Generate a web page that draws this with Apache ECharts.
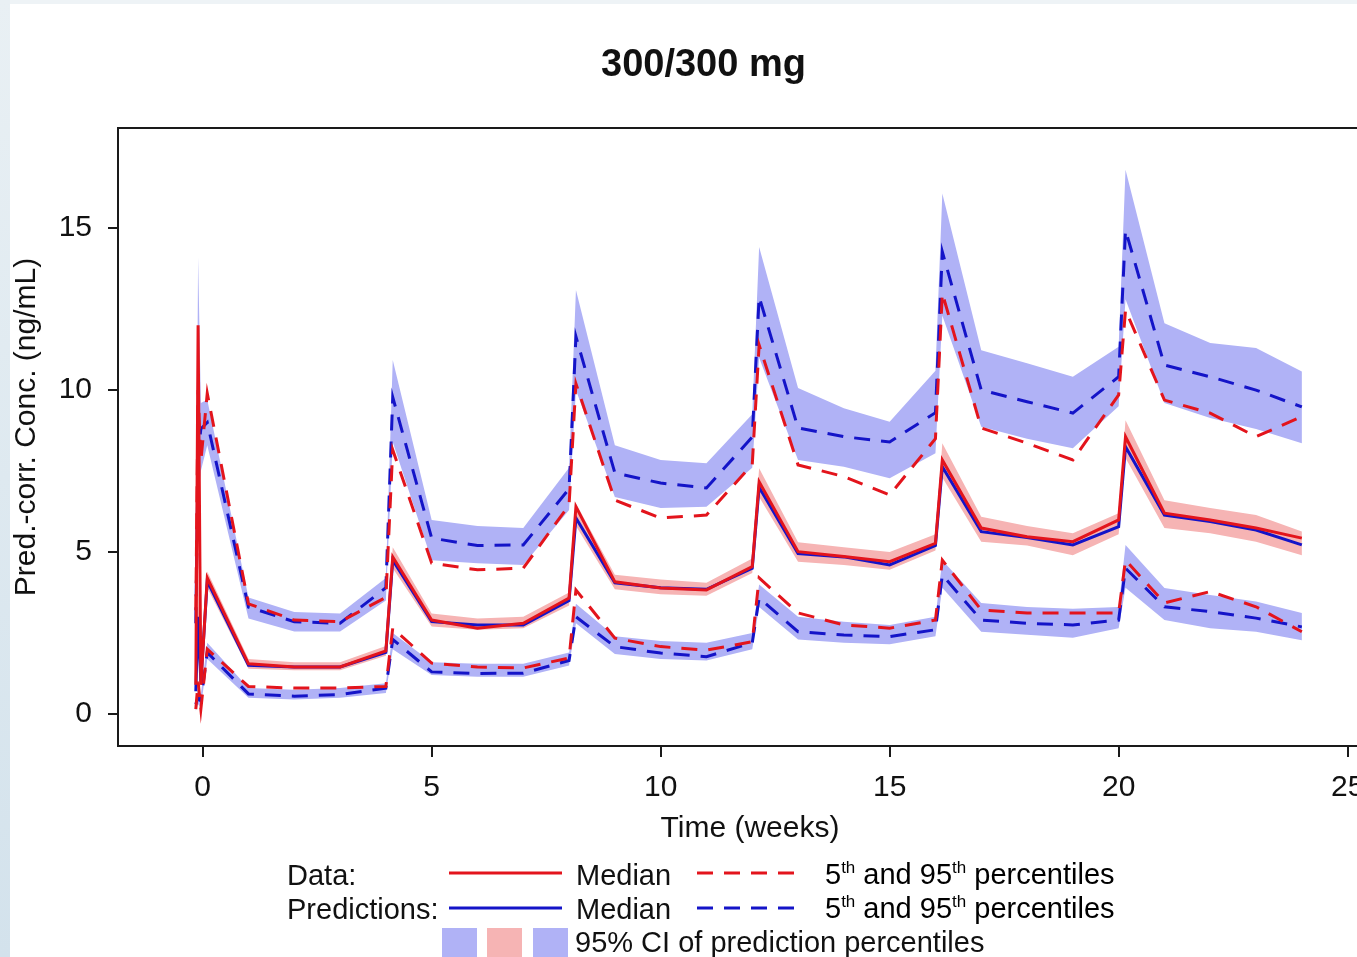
<!DOCTYPE html>
<html>
<head>
<meta charset="utf-8">
<script src="https://cdn.jsdelivr.net/npm/echarts@6/dist/echarts.min.js"></script>
<style>
html,body{margin:0;padding:0;background:#fff;}
#chart{width:1357px;height:957px;}
</style>
</head>
<body>
<div id="chart"></div>
<script>
// ---- data (weeks) ----
const weeks = [-0.15, -0.1, -0.04, 0.1, 1, 2, 3, 4, 4.15, 5, 6, 7, 8, 8.15, 9, 10, 11, 12, 12.15, 13, 14, 15, 16, 16.15, 17, 18, 19, 20, 20.15, 21, 22, 23, 24];

// Observed data (red)
const obsMedian = [0.9, 12.0, 0.9, 4.2, 1.55, 1.45, 1.45, 1.95, 4.85, 2.9, 2.65, 2.8, 3.58, 6.4, 4.08, 3.89, 3.83, 4.55, 7.17, 5.01, 4.86, 4.7, 5.27, 7.84, 5.74, 5.47, 5.32, 5.99, 8.56, 6.2, 5.99, 5.74, 5.43];
const obsP95 = [3.2, 10.0, 7.8, 9.9, 3.4, 2.9, 2.85, 3.6, 8.15, 4.66, 4.45, 4.5, 6.45, 10.2, 6.6, 6.05, 6.14, 7.7, 11.39, 7.69, 7.33, 6.76, 8.5, 12.99, 8.83, 8.36, 7.84, 9.85, 12.47, 9.69, 9.29, 8.56, 9.18];
const obsP05 = [0.15, 1.0, 0.15, 2.0, 0.85, 0.8, 0.8, 0.85, 2.65, 1.57, 1.45, 1.42, 1.73, 3.83, 2.34, 2.08, 1.97, 2.23, 4.2, 3.12, 2.75, 2.65, 2.9, 4.75, 3.21, 3.12, 3.12, 3.12, 4.75, 3.43, 3.78, 3.31, 2.54];

// Predictions (blue)
const predMedian = [0.7, 3.0, 1.0, 4.1, 1.5, 1.45, 1.45, 1.9, 4.75, 2.85, 2.75, 2.75, 3.5, 6.05, 4.05, 3.9, 3.85, 4.5, 7.0, 4.95, 4.85, 4.6, 5.2, 7.63, 5.63, 5.45, 5.22, 5.78, 8.25, 6.14, 5.94, 5.68, 5.22];
const predP95 = [2.8, 8.0, 8.8, 9.0, 3.3, 2.85, 2.8, 3.9, 9.78, 5.43, 5.2, 5.22, 6.95, 11.65, 7.44, 7.13, 6.98, 8.55, 12.88, 8.83, 8.56, 8.4, 9.3, 14.27, 10.0, 9.64, 9.29, 10.41, 14.94, 10.77, 10.41, 10.0, 9.48];
const predP05 = [0.3, 0.5, 0.4, 1.9, 0.62, 0.55, 0.6, 0.8, 2.3, 1.3, 1.25, 1.26, 1.65, 3.0, 2.08, 1.88, 1.77, 2.2, 3.58, 2.54, 2.44, 2.39, 2.6, 4.29, 2.9, 2.8, 2.75, 2.9, 4.5, 3.31, 3.16, 2.96, 2.69];

// 95% CI of prediction percentiles
const ci95Low = [2.5, 6.5, 7.5, 8.3, 2.95, 2.55, 2.55, 3.5, 8.4, 4.75, 4.65, 4.6, 6.3, 10.0, 6.7, 6.36, 6.4, 7.6, 11.0, 7.84, 7.63, 7.28, 8.05, 12.3, 8.87, 8.5, 8.2, 9.5, 12.8, 9.6, 9.14, 8.8, 8.36];
const ci95High = [3.5, 14.1, 9.6, 9.7, 3.6, 3.15, 3.1, 4.2, 10.93, 5.99, 5.8, 5.74, 7.6, 13.09, 8.3, 7.84, 7.74, 9.25, 14.42, 10.06, 9.44, 9.02, 10.6, 16.07, 11.23, 10.83, 10.41, 11.34, 16.8, 12.06, 11.45, 11.3, 10.57];
const ciMedLow = [0.6, 2.5, 0.8, 3.9, 1.4, 1.35, 1.35, 1.8, 4.5, 2.7, 2.6, 2.65, 3.35, 5.8, 3.85, 3.7, 3.65, 4.35, 6.7, 4.7, 4.6, 4.45, 5.05, 7.3, 5.32, 5.2, 4.9, 5.55, 7.9, 5.74, 5.58, 5.32, 4.9];
const ciMedHigh = [1.0, 4.0, 1.2, 4.4, 1.7, 1.6, 1.6, 2.1, 5.15, 3.1, 2.95, 3.0, 3.75, 6.5, 4.3, 4.15, 4.05, 4.8, 7.59, 5.3, 5.15, 5.0, 5.55, 8.36, 6.09, 5.8, 5.58, 6.2, 9.07, 6.6, 6.36, 6.14, 5.63];
const ci05Low = [0.1, 0.3, 0.2, 1.7, 0.5, 0.45, 0.5, 0.65, 2.0, 1.2, 1.15, 1.15, 1.5, 2.8, 1.85, 1.7, 1.65, 2.0, 3.3, 2.3, 2.2, 2.15, 2.4, 3.9, 2.54, 2.45, 2.35, 2.65, 3.9, 2.9, 2.65, 2.54, 2.28];
const ci05High = [0.5, 0.8, 0.6, 2.2, 0.8, 0.75, 0.8, 0.95, 2.5, 1.6, 1.55, 1.55, 1.9, 3.4, 2.4, 2.25, 2.2, 2.5, 4.0, 3.0, 2.85, 2.75, 3.0, 4.75, 3.43, 3.3, 3.25, 3.3, 5.22, 3.89, 3.67, 3.47, 3.12];

// tick labels
const xTicks = [0, 5, 10, 15, 20, 25];
const yTicks = [0, 5, 10, 15];

// ---- styles ----
const FONT = "'Liberation Sans', Arial, Helvetica, sans-serif";
const RED = '#e3141c';
const BLUE = '#1414c8';
const BAND_BLUE = '#b0b2f6';
const BAND_PINK = '#f6b4b4';
const DASH = [16, 11];

function pairs(ys) { return weeks.map((t, i) => [t, ys[i]]); }
function bandData(lo, hi) { return weeks.map((t, i) => [t, lo[i], hi[i]]); }

function bandSeries(name, lo, hi, color) {
  return {
    name: name,
    type: 'custom',
    clip: true,
    z: 1,
    silent: true,
    encode: { x: 0, y: [1, 2] },
    data: bandData(lo, hi),
    renderItem: function (params, api) {
      if (params.dataIndexInside !== 0) return null;
      const n = params.dataInsideLength;
      const pts = [];
      for (let i = 0; i < n; i++) pts.push(api.coord([api.value(0, i), api.value(2, i)]));
      for (let i = n - 1; i >= 0; i--) pts.push(api.coord([api.value(0, i), api.value(1, i)]));
      return { type: 'polygon', shape: { points: pts }, style: { fill: color } };
    }
  };
}

function lineSeries(name, ys, color, dashed, z) {
  return {
    name: name,
    type: 'line',
    data: pairs(ys),
    showSymbol: false,
    symbol: 'none',
    z: z,
    lineStyle: { color: color, width: 3, type: dashed ? DASH : 'solid', cap: 'butt', join: 'miter' },
    emphasis: { disabled: true }
  };
}

const chart = echarts.init(document.getElementById('chart'), null, { renderer: 'canvas' });

const legendFont = { fontFamily: FONT, fontSize: 29, fill: '#111' };
const supRich = {
  n: { fontFamily: FONT, fontSize: 29, color: '#111' },
  s: { fontFamily: FONT, fontSize: 17, color: '#111', verticalAlign: 'top', padding: [0, 0, 14, 0] }
};

function legText(x, y, text) {
  return { type: 'text', left: x, top: y - 13, style: Object.assign({ text: text }, legendFont), z: 10 };
}
function legRich(x, y) {
  return {
    type: 'text', left: x, top: y - 15, z: 10,
    style: { text: '{n|5}{s|th}{n| and 95}{s|th}{n| percentiles}', rich: supRich, fontFamily: FONT }
  };
}
function legLine(x1, x2, y, color, dashed) {
  return {
    type: 'line', z: 10,
    shape: { x1: x1, y1: y, x2: x2, y2: y },
    style: { stroke: color, lineWidth: 3, lineDash: dashed ? DASH : null }
  };
}
function legRect(x, y, w, h, color) {
  return { type: 'rect', z: 10, shape: { x: x, y: y, width: w, height: h }, style: { fill: color } };
}

const option = {
  animation: false,
  backgroundColor: '#ffffff',
  title: {
    text: '300/300 mg',
    left: 596, top: 42,
    textStyle: { fontFamily: FONT, fontSize: 38, fontWeight: 'bold', color: '#111' }
  },
  grid: {
    left: 118, top: 128, right: -3, bottom: 211,
    containLabel: false,
    outerBoundsMode: 'none',
    show: true, borderColor: '#1a1a1a', borderWidth: 2, backgroundColor: 'transparent'
  },
  xAxis: {
    type: 'value',
    min: -1.849, max: 25.27,
    name: 'Time (weeks)',
    nameLocation: 'middle',
    nameGap: 68,
    nameTextStyle: { fontFamily: FONT, fontSize: 30, color: '#111', padding: [0, 0, 0, 22] },
    axisLine: { show: false, onZero: false },
    splitLine: { show: false },
    axisTick: { show: true, inside: false, length: 11, customValues: xTicks, lineStyle: { color: '#1a1a1a', width: 2 } },
    axisLabel: { show: true, customValues: xTicks, margin: 27, fontFamily: FONT, fontSize: 30, color: '#111', hideOverlap: false, showMaxLabel: true, showMinLabel: true }
  },
  yAxis: {
    type: 'value',
    min: -0.988, max: 18.09,
    name: 'Pred.-corr. Conc. (ng/mL)',
    nameLocation: 'middle',
    nameGap: 76,
    nameRotate: 90,
    nameTextStyle: { fontFamily: FONT, fontSize: 30, color: '#111', padding: [0, 0, 0, 20] },
    axisLine: { show: false, onZero: false },
    splitLine: { show: false },
    axisTick: { show: true, inside: false, length: 10, customValues: yTicks, lineStyle: { color: '#1a1a1a', width: 2 } },
    axisLabel: { show: true, customValues: yTicks, margin: 26, fontFamily: FONT, fontSize: 30, color: '#111' }
  },
  series: [
    bandSeries('CI 95th', ci95Low, ci95High, BAND_BLUE),
    bandSeries('CI median', ciMedLow, ciMedHigh, BAND_PINK),
    bandSeries('CI 5th', ci05Low, ci05High, BAND_BLUE),
    lineSeries('Pred P95', predP95, BLUE, true, 3),
    lineSeries('Pred P05', predP05, BLUE, true, 3),
    lineSeries('Pred median', predMedian, BLUE, false, 3),
    lineSeries('Obs P95', obsP95, RED, true, 4),
    lineSeries('Obs P05', obsP05, RED, true, 4),
    lineSeries('Obs median', obsMedian, RED, false, 4)
  ],
  graphic: [
    { type: 'rect', z: -10, shape: { x: 0, y: 0, width: 1357, height: 4 }, style: { fill: '#eef3f6' } },
    { type: 'rect', z: -10, shape: { x: 0, y: 0, width: 10, height: 957 },
      style: { fill: new echarts.graphic.LinearGradient(0, 0, 0, 1, [{ offset: 0, color: '#e9f0f4' }, { offset: 1, color: '#d3e2ec' }]) } },
    legText(287, 875, 'Data:'),
    legLine(449, 562, 873, RED, false),
    legText(576, 875, 'Median'),
    legLine(697, 803, 873, RED, true),
    legRich(825, 875),
    legText(287, 909, 'Predictions:'),
    legLine(449, 562, 908, BLUE, false),
    legText(576, 909, 'Median'),
    legLine(697, 803, 908, BLUE, true),
    legRich(825, 909),
    legRect(442, 928, 35, 30, BAND_BLUE),
    legRect(487, 928, 35, 30, BAND_PINK),
    legRect(533, 928, 35, 30, BAND_BLUE),
    legText(575, 942, '95% CI of prediction percentiles')
  ]
};

chart.setOption(option);
</script>
</body>
</html>
